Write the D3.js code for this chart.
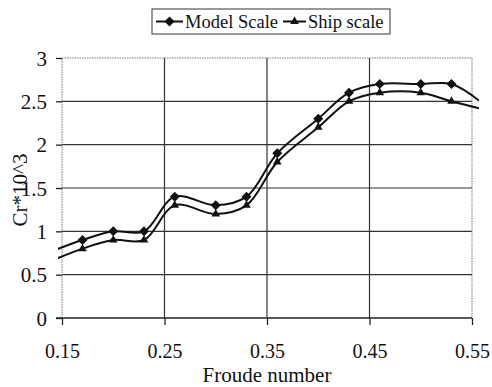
<!DOCTYPE html>
<html>
<head>
<meta charset="utf-8">
<script src="https://cdn.jsdelivr.net/npm/d3@7"></script>
<style>
  body { margin: 0; background: #fff; }
  svg text { font-family: "Liberation Serif", "DejaVu Serif", serif; fill: #111; }
</style>
</head>
<body>
<div id="content"></div>
<script>
// data (first/last points sit outside the axis and get clipped)
const froude = [0.14, 0.17, 0.20, 0.23, 0.26, 0.30, 0.33, 0.36, 0.40, 0.43, 0.46, 0.50, 0.53, 0.56]
const modelScale = [0.77, 0.9, 1.0, 1.0, 1.4, 1.3, 1.4, 1.9, 2.3, 2.6, 2.7, 2.7, 2.7, 2.48]
const shipScale = [0.66, 0.8, 0.9, 0.9, 1.3, 1.2, 1.3, 1.8, 2.2, 2.5, 2.6, 2.6, 2.5, 2.41]
const xTicks = [0.15, 0.25, 0.35, 0.45, 0.55]
const yTicks = [0, 0.5, 1, 1.5, 2, 2.5, 3]

const content = d3.select("#content")

const outerWidth = 492
const outerHeight = 387
const margin = {top: 58, left: 62}
const width = 472 - margin.left
const height = 318 - margin.top
const serif = "Liberation Serif"

const svg = content.append("svg")
    .attr("width", outerWidth)
    .attr("height", outerHeight)

const wrapper = svg.append("g")
    .attr("transform", `translate(${margin.left}, ${margin.top})`)

// scales
const xScale = d3.scaleLinear()
    .domain([0.15, 0.55])
    .range([0, width])
const yScale = d3.scaleLinear()
    .domain([0, 3])
    .range([height, 0])

// grid
wrapper.append("g")
    .selectAll("line")
    .data(yTicks.filter(d => d > 0 && d < 3))
    .join("line")
    .attr("x1", 0).attr("x2", width)
    .attr("y1", d => yScale(d)).attr("y2", d => yScale(d))
    .style("stroke", "#333").style("stroke-width", 1.2)

wrapper.append("g")
    .selectAll("line")
    .data(xTicks.slice(1, -1))
    .join("line")
    .attr("x1", d => xScale(d)).attr("x2", d => xScale(d))
    .attr("y1", 0).attr("y2", height)
    .style("stroke", "#333").style("stroke-width", 1.2)

// dotted frame (top, right, left)
wrapper.append("path")
    .attr("d", `M0,${height}V0H${width}V${height}`)
    .style("fill", "none")
    .style("stroke", "#777")
    .style("stroke-width", 1)
    .style("stroke-dasharray", "1.5,1")

// axes
const xAxis = d3.axisBottom(xScale)
    .tickValues(xTicks)
    .tickSize(7)
    .tickFormat(d3.format(".2f"))
const xg = wrapper.append("g")
    .attr("transform", `translate(0, ${height})`)
    .attr("font-family", serif)
    .call(xAxis)
xg.select(".domain").attr("d", `M-6,0H${width}`).style("stroke", "#222").style("stroke-width", 1.5)
xg.selectAll(".tick line").style("stroke", "#222").style("stroke-width", 1.3)
xg.selectAll(".tick text")
    .attr("y", 40)
    .attr("dy", 0)
    .attr("font-family", serif)
    .style("font-size", "20px")

const yAxis = d3.axisLeft(yScale)
    .tickValues(yTicks)
    .tickSize(6)
    .tickFormat(d => d)
const yg = wrapper.append("g")
    .attr("font-family", serif)
    .call(yAxis)
yg.select(".domain").remove()
yg.selectAll(".tick line").style("stroke", "#222").style("stroke-width", 1.3)
yg.selectAll(".tick text")
    .attr("x", -15)
    .attr("dy", "0.34em")
    .attr("font-family", serif)
    .style("font-size", "21px")

// axis titles
svg.append("text")
    .attr("x", margin.left + width / 2)
    .attr("y", 382)
    .attr("text-anchor", "middle")
    .attr("font-family", serif)
    .style("font-size", "21px")
    .text("Froude number")

svg.append("text")
    .attr("transform", `translate(27, ${margin.top + height / 2 + 2}) rotate(-90)`)
    .attr("text-anchor", "middle")
    .attr("font-family", serif)
    .style("font-size", "21px")
    .text("Cr*10^3")

// series
svg.append("defs").append("clipPath")
    .attr("id", "plotclip")
    .append("rect")
    .attr("x", -4).attr("y", -10)
    .attr("width", width + 11).attr("height", height + 20)

const series = [
  {name: "Model Scale", values: modelScale, symbol: d3.symbolSquare, size: 50, rot: 45},
  {name: "Ship scale", values: shipScale, symbol: d3.symbolTriangle, size: 32, rot: 0},
]

const line = d3.line()
    .x(d => xScale(d[0]))
    .y(d => yScale(d[1]))
    .curve(d3.curveCatmullRom.alpha(0.5))

series.forEach(s => {
  const pts = froude.map((f, i) => [f, s.values[i]])
  wrapper.append("path")
      .datum(pts)
      .attr("d", line)
      .attr("clip-path", "url(#plotclip)")
      .style("fill", "none")
      .style("stroke", "#111")
      .style("stroke-width", 2)
  wrapper.append("g")
      .selectAll("path")
      .data(pts.filter(d => d[0] >= 0.15 && d[0] <= 0.55))
      .join("path")
      .attr("transform", d => `translate(${xScale(d[0])}, ${yScale(d[1])}) rotate(${s.rot})`)
      .attr("d", d3.symbol().type(s.symbol).size(s.size))
      .style("fill", "#111")
})

// legend
const legend = svg.append("g").attr("transform", "translate(152, 9)")
legend.append("rect")
    .attr("width", 238).attr("height", 25)
    .style("fill", "#fff").style("stroke", "#333").style("stroke-width", 1)

const items = [
  {s: series[0], x: 4, w: 27, textX: 33},
  {s: series[1], x: 131, w: 23, textX: 156},
]
items.forEach(it => {
  const g = legend.append("g").attr("transform", `translate(${it.x}, 12.5)`)
  g.append("line").attr("x1", 0).attr("x2", it.w)
      .style("stroke", "#111").style("stroke-width", 2)
  g.append("path")
      .attr("transform", `translate(${it.w / 2}, 0) rotate(${it.s.rot})`)
      .attr("d", d3.symbol().type(it.s.symbol).size(it.s.size))
      .style("fill", "#111")
  legend.append("text")
      .attr("x", it.textX)
      .attr("y", 18.5)
      .attr("font-family", serif)
      .style("font-size", "18.5px")
      .text(it.s.name)
})
</script>
</body>
</html>
